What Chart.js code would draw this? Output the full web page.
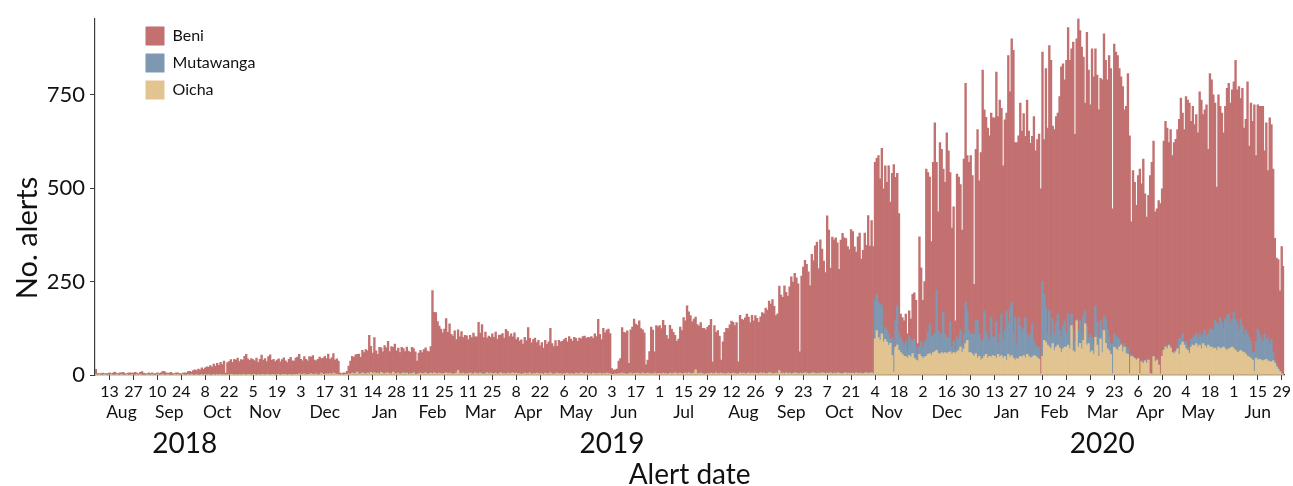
<!DOCTYPE html>
<html>
<head>
<meta charset="utf-8">
<title>Alerts by health zone</title>
<script src="https://cdn.jsdelivr.net/npm/chart.js@4/dist/chart.umd.min.js"></script>
<style>
    html, body { margin: 0; padding: 0; background: #fff; }
</style>
</head>
<body>
<canvas id="alerts" width="1293" height="486"></canvas>
<script>
// Daily alerts, 5 Aug 2018 - 30 Jun 2020 (one row per 2-week tick period)
const firstDay = "2018-08-05";
const firstTick = "2018-08-13";
const tickStep = 14;
const yearAnchors = ["2018-09-26", "2019-06-03", "2020-03-16"];
const monthNames = ["Jan", "Feb", "Mar", "Apr", "May", "Jun", "Jul", "Aug", "Sep", "Oct", "Nov", "Dec"];
const yTicks = [0, 250, 500, 750];
const yMax = 955;
const yTitleText = "No. alerts";

const beni = [
    [14, 4, 3, 4, 5, 3, 4, 4],
    [6, 3, 5, 8, 4, 3, 6, 5, 7, 4, 3, 5, 6, 4],
    [5, 7, 4, 3, 6, 9, 5, 4, 3, 6, 4, 5, 3, 4],
    [5, 4, 6, 8, 10, 6, 4, 5, 7, 4, 3, 6, 5, 4],
    [3, 4, 6, 5, 8, 10, 7, 12, 14, 11, 16, 13, 18, 15],
    [18, 22, 20, 25, 21, 27, 24, 30, 26, 33, 28, 36, 5, 32],
    [36, 40, 33, 42, 38, 45, 35, 41, 39, 48, 55, 42, 38, 44],
    [40, 36, 45, 33, 42, 52, 38, 44, 35, 48, 54, 37, 41, 36],
    [38, 42, 35, 40, 44, 37, 33, 41, 45, 38, 36, 43, 47, 52],
    [40, 37, 45, 42, 36, 48, 44, 50, 38, 35, 42, 46, 39, 44],
    [48, 40, 55, 38, 44, 52, 36, 42, 35, 5, 3, 6, 4, 8],
    [20, 35, 45, 42, 50, 47, 53, 44, 60, 55, 66, 58, 103, 70],
    [55, 93, 62, 50, 70, 66, 58, 75, 68, 84, 60, 72, 66, 78],
    [62, 66, 58, 70, 64, 60, 68, 62, 57, 70, 65, 60, 35, 55],
    [60, 57, 64, 66, 62, 58, 70, 223, 160, 163, 140, 125, 119, 110],
    [119, 145, 110, 132, 105, 100, 115, 90, 108, 98, 112, 95, 104, 100],
    [92, 100, 96, 110, 95, 99, 137, 105, 132, 98, 110, 93, 100, 96],
    [105, 98, 110, 93, 103, 100, 108, 95, 119, 112, 100, 104, 96, 110],
    [90, 97, 85, 92, 80, 95, 88, 123, 92, 84, 90, 96, 82, 88],
    [75, 82, 70, 88, 78, 85, 119, 80, 74, 86, 72, 90, 84, 88],
    [90, 96, 84, 100, 92, 88, 97, 93, 86, 95, 91, 98, 101, 93],
    [98, 95, 101, 93, 106, 99, 145, 104, 93, 119, 110, 115, 118, 108],
    [15, 12, 10, 14, 33, 40, 122, 110, 108, 116, 26, 116, 125, 145],
    [132, 128, 141, 120, 115, 110, 22, 35, 60, 123, 118, 57, 128, 125],
    [128, 120, 141, 130, 101, 95, 128, 118, 110, 100, 86, 92, 123, 115],
    [150, 140, 181, 163, 155, 137, 145, 141, 130, 128, 135, 120, 123, 118],
    [123, 130, 144, 31, 128, 108, 115, 100, 35, 84, 110, 123, 118, 130],
    [141, 135, 128, 137, 31, 154, 145, 141, 150, 159, 148, 137, 155, 140],
    [154, 148, 137, 150, 163, 158, 176, 170, 190, 185, 198, 180, 154, 160],
    [225, 210, 203, 234, 215, 207, 230, 260, 245, 265, 255, 240, 57, 260],
    [285, 300, 291, 273, 234, 318, 300, 340, 353, 280, 357, 331, 300, 269],
    [421, 384, 278, 366, 357, 362, 348, 278, 357, 375, 362, 357, 340, 331],
    [384, 379, 340, 322, 366, 375, 304, 331, 375, 340, 423, 340, 406, 340],
    [369, 364, 392, 335, 422, 388, 432, 396, 450, 368, 440, 493, 384, 355],
    [322, 63, 64, 65, 74, 45, 70, 57, 124, 125, 125, 26, 295, 197],
    [126, 162, 458, 427, 393, 255, 464, 563, 343, 319, 512, 494, 384, 406],
    [547, 500, 400, 318, 360, 78, 436, 434, 390, 308, 468, 587, 415, 450],
    [477, 424, 133, 457, 512, 410, 505, 722, 538, 575, 561, 550, 547, 586],
    [586, 670, 608, 626, 551, 465, 563, 529, 715, 577, 706, 759, 468, 538],
    [486, 598, 533, 575, 485, 626, 553, 510, 502, 602, 520, 560, 570, 493],
    [613, 414, 639, 551, 710, 742, 516, 547, 552, 538, 625, 725, 703, 645],
    [732, 767, 712, 710, 771, 554, 750, 833, 777, 768, 691, 556, 787, 716],
    [613, 773, 718, 688, 663, 610, 649, 670, 753, 692, 670, 755, 736, 361],
    [776, 759, 755, 725, 713, 697, 625, 644, 737, 637, 355, 497, 471, 412],
    [488, 548, 474, 545, 446, 390, 438, 530, 567, 575, 401, 402, 439, 456],
    [446, 558, 601, 589, 540, 582, 525, 562, 566, 585, 589, 641, 591, 567],
    [655, 661, 668, 584, 619, 565, 587, 548, 648, 636, 587, 590, 618, 494],
    [684, 667, 632, 583, 363, 615, 565, 561, 523, 569, 607, 618, 588, 613],
    [617, 692, 623, 652, 590, 637, 551, 564, 675, 513, 638, 619, 663, 497],
    [600, 609, 619, 629, 490, 580, 447, 603, 575, 491, 326, 285, 291, 215],
    [341, 291]
].flat();

const mutawanga = [
    [0, 0, 0, 0, 0, 0, 0, 0],
    [0, 0, 0, 0, 0, 0, 0, 0, 0, 0, 0, 0, 0, 0],
    [0, 0, 0, 0, 0, 0, 0, 0, 0, 0, 0, 0, 0, 0],
    [0, 0, 0, 0, 0, 0, 0, 0, 0, 0, 0, 0, 0, 0],
    [0, 0, 0, 0, 0, 0, 0, 0, 0, 0, 0, 0, 0, 0],
    [0, 0, 0, 0, 0, 0, 0, 0, 0, 0, 0, 0, 0, 0],
    [0, 0, 0, 0, 0, 0, 0, 0, 0, 0, 0, 0, 0, 0],
    [0, 0, 0, 0, 0, 0, 0, 0, 0, 0, 0, 0, 0, 0],
    [0, 0, 0, 0, 0, 0, 0, 0, 0, 0, 0, 0, 0, 0],
    [0, 0, 1, 0, 0, 0, 0, 0, 1, 0, 0, 0, 0, 0],
    [0, 1, 0, 0, 0, 0, 1, 0, 0, 0, 0, 0, 0, 0],
    [1, 0, 0, 2, 0, 0, 1, 0, 0, 1, 0, 2, 0, 0],
    [0, 1, 0, 0, 2, 0, 0, 1, 0, 0, 1, 0, 0, 2],
    [0, 1, 0, 0, 1, 0, 2, 0, 0, 1, 0, 0, 1, 0],
    [1, 0, 0, 1, 0, 0, 1, 0, 2, 0, 0, 1, 0, 0],
    [0, 0, 1, 0, 0, 2, 0, 0, 1, 0, 1, 0, 0, 1],
    [0, 1, 0, 0, 1, 0, 0, 2, 0, 0, 1, 0, 1, 0],
    [1, 0, 0, 1, 0, 1, 0, 0, 1, 0, 0, 2, 0, 0],
    [0, 0, 2, 0, 0, 1, 0, 1, 0, 0, 1, 0, 0, 1],
    [0, 1, 0, 0, 1, 0, 0, 1, 0, 2, 0, 0, 1, 0],
    [1, 0, 0, 1, 0, 0, 2, 0, 0, 1, 0, 1, 0, 0],
    [0, 1, 0, 0, 1, 0, 1, 0, 0, 2, 0, 0, 1, 0],
    [0, 0, 1, 0, 0, 1, 0, 0, 2, 0, 1, 0, 0, 1],
    [1, 0, 0, 2, 0, 0, 1, 0, 0, 1, 0, 0, 1, 0],
    [0, 1, 0, 0, 1, 0, 0, 2, 0, 0, 1, 0, 0, 1],
    [0, 0, 1, 0, 0, 2, 0, 0, 1, 0, 0, 1, 0, 0],
    [1, 0, 0, 1, 0, 0, 1, 0, 0, 2, 0, 0, 1, 0],
    [0, 1, 0, 0, 2, 0, 0, 1, 0, 0, 1, 0, 0, 1],
    [0, 0, 1, 0, 0, 1, 0, 0, 2, 0, 0, 1, 0, 0],
    [1, 0, 0, 2, 0, 0, 1, 0, 0, 1, 0, 0, 2, 0],
    [0, 1, 0, 0, 1, 0, 0, 2, 0, 0, 1, 0, 0, 1],
    [0, 0, 2, 0, 0, 1, 0, 0, 1, 0, 0, 2, 0, 0],
    [1, 0, 0, 1, 0, 0, 2, 0, 0, 1, 0, 0, 1, 0],
    [103, 97, 95, 97, 75, 22, 33, 32, 31, 10, 48, 62, 70, 105],
    [44, 40, 35, 30, 40, 20, 50, 45, 35, 50, 35, 20, 20, 40],
    [30, 40, 43, 60, 80, 50, 45, 50, 160, 60, 55, 50, 110, 50],
    [44, 40, 80, 20, 30, 10, 40, 30, 45, 20, 40, 110, 79, 59],
    [50, 55, 60, 90, 100, 60, 50, 50, 122, 60, 55, 40, 106, 50],
    [52, 96, 29, 62, 111, 50, 70, 132, 85, 133, 142, 65, 114, 40],
    [110, 80, 72, 73, 108, 55, 50, 65, 89, 38, 30, 24, 33, 2],
    [201, 123, 93, 30, 97, 30, 66, 44, 65, 83, 48, 40, 60, 70],
    [35, 83, 60, 31, 55, 30, 5, 45, 60, 40, 67, 35, 50, 16],
    [50, 35, 25, 84, 60, 50, 48, 60, 41, 65, 50, 35, 29, 80],
    [35, 35, 34, 20, 5, 13, 10, 18, 15, 0, 5, 2, 1, 2],
    [2, 0, 3, 2, 1, 2, 3, 0, 0, 2, 1, 3, 2, 0],
    [2, 2, 3, 2, 3, 3, 2, 3, 3, 2, 40, 20, 22, 10],
    [20, 9, 3, 20, 20, 27, 26, 25, 30, 30, 26, 42, 33, 30],
    [48, 48, 48, 73, 74, 60, 84, 68, 50, 80, 94, 93, 68, 75],
    [98, 84, 80, 58, 84, 68, 50, 65, 60, 52, 46, 20, 50, 45],
    [83, 68, 60, 52, 70, 53, 62, 49, 60, 22, 9, 6, 3, 1],
    [0, 0]
].flat();

const oicha = [
    [1, 0, 1, 0, 0, 1, 0, 0],
    [0, 1, 0, 0, 1, 0, 0, 1, 0, 0, 1, 0, 0, 1],
    [0, 0, 1, 0, 1, 0, 0, 0, 1, 0, 0, 1, 0, 0],
    [1, 0, 0, 1, 0, 0, 1, 0, 0, 0, 1, 0, 1, 0],
    [0, 1, 0, 0, 1, 0, 1, 0, 0, 1, 0, 0, 1, 0],
    [1, 0, 1, 0, 0, 2, 0, 1, 0, 1, 0, 1, 0, 1],
    [0, 1, 1, 0, 2, 0, 1, 0, 1, 2, 0, 1, 1, 0],
    [1, 2, 0, 1, 0, 1, 2, 0, 1, 1, 0, 2, 1, 0],
    [2, 1, 0, 1, 2, 1, 0, 1, 2, 0, 1, 2, 1, 3],
    [2, 1, 3, 0, 2, 1, 4, 2, 1, 3, 0, 2, 5, 1],
    [2, 3, 1, 4, 2, 5, 3, 1, 2, 0, 1, 0, 1, 2],
    [3, 2, 5, 3, 4, 8, 2, 3, 6, 4, 2, 5, 3, 7],
    [4, 6, 3, 5, 2, 7, 4, 3, 5, 6, 2, 4, 8, 3],
    [3, 5, 2, 4, 6, 3, 5, 2, 4, 3, 6, 2, 1, 4],
    [5, 3, 4, 6, 2, 4, 5, 3, 6, 4, 3, 5, 4, 3],
    [4, 6, 3, 5, 4, 2, 3, 5, 12, 4, 3, 5, 2, 4],
    [3, 5, 4, 2, 6, 3, 4, 5, 3, 2, 4, 6, 3, 5],
    [4, 3, 5, 2, 4, 6, 3, 4, 2, 5, 3, 4, 6, 3],
    [5, 3, 4, 2, 3, 5, 4, 3, 6, 2, 4, 3, 5, 4],
    [3, 4, 2, 5, 3, 4, 6, 3, 2, 4, 5, 3, 4, 2],
    [4, 3, 5, 2, 4, 3, 2, 5, 4, 3, 6, 4, 3, 5],
    [3, 4, 2, 5, 3, 4, 3, 5, 2, 4, 3, 5, 4, 3],
    [2, 1, 3, 2, 4, 3, 5, 4, 3, 2, 4, 5, 3, 4],
    [3, 5, 4, 2, 6, 3, 4, 5, 3, 4, 2, 5, 3, 4],
    [4, 3, 5, 3, 4, 2, 5, 3, 4, 6, 3, 4, 5, 3],
    [4, 5, 3, 6, 4, 3, 5, 14, 4, 3, 5, 4, 2, 3],
    [4, 3, 5, 3, 4, 6, 3, 4, 5, 3, 4, 2, 5, 4],
    [3, 5, 4, 3, 2, 6, 4, 5, 3, 4, 6, 3, 5, 4],
    [5, 4, 3, 6, 4, 5, 3, 4, 6, 5, 4, 3, 5, 4],
    [12, 4, 5, 3, 6, 4, 5, 3, 4, 6, 5, 4, 3, 5],
    [4, 6, 5, 3, 4, 5, 6, 4, 3, 5, 4, 6, 5, 4],
    [5, 4, 6, 3, 5, 4, 6, 5, 3, 4, 5, 6, 4, 5],
    [4, 5, 3, 6, 4, 5, 4, 3, 5, 6, 4, 5, 6, 4],
    [97, 119, 100, 93, 110, 88, 95, 88, 79, 85, 52, 8, 75, 80],
    [66, 60, 55, 50, 49, 45, 52, 48, 57, 45, 40, 38, 55, 50],
    [44, 48, 50, 55, 57, 52, 60, 62, 66, 58, 55, 60, 57, 60],
    [57, 60, 62, 55, 60, 57, 62, 66, 75, 60, 70, 84, 93, 60],
    [60, 55, 50, 57, 45, 50, 40, 44, 50, 55, 45, 50, 48, 52],
    [50, 45, 55, 48, 52, 45, 50, 40, 55, 48, 52, 45, 40, 44],
    [44, 50, 48, 52, 46, 55, 50, 45, 48, 52, 50, 46, 42, 3],
    [50, 93, 88, 80, 75, 70, 84, 66, 75, 80, 72, 60, 70, 75],
    [75, 80, 70, 132, 65, 60, 145, 75, 85, 70, 93, 137, 80, 84],
    [60, 65, 55, 101, 80, 50, 97, 60, 119, 85, 70, 65, 55, 4],
    [75, 70, 66, 75, 80, 62, 75, 57, 55, 3, 50, 48, 44, 40],
    [44, 3, 35, 31, 38, 31, 40, 4, 2, 49, 35, 40, 26, 3],
    [50, 66, 75, 70, 79, 72, 60, 57, 62, 70, 55, 80, 88, 80],
    [70, 66, 57, 75, 80, 78, 84, 75, 80, 70, 84, 78, 72, 80],
    [75, 75, 70, 72, 66, 75, 70, 72, 75, 70, 66, 70, 72, 75],
    [70, 66, 60, 62, 66, 62, 60, 55, 50, 48, 44, 40, 10, 45],
    [40, 42, 40, 38, 40, 42, 38, 36, 35, 38, 31, 22, 15, 9],
    [3, 0]
].flat();

// Date bookkeeping for the category axis
const DAY = 86400000;
const t0 = Date.parse(firstDay + "T00:00:00Z");
const idxOf = (s) => Math.round((Date.parse(s + "T00:00:00Z") - t0) / DAY);
const dates = beni.map((_, i) => new Date(t0 + i * DAY));
const labels = dates.map((d) => d.toISOString().slice(0, 10));

const dayTicks = [];
for (let i = idxOf(firstTick); i < labels.length; i += tickStep) dayTicks.push(i);

// month name sits under the middle of that month's day ticks
const byMonth = new Map();
dayTicks.forEach((i) => {
    const key = dates[i].getUTCFullYear() * 12 + dates[i].getUTCMonth();
    if (!byMonth.has(key)) byMonth.set(key, []);
    byMonth.get(key).push(i);
});
const monthTicks = [...byMonth.values()].map((a) => Math.round((a[0] + a[a.length - 1]) / 2));
const yearTicks = yearAnchors.map(idxOf);

const ink = "#111";
const axisColor = "#3c3c3c";
const fontFamily = "Lato, 'Noto Sans', sans-serif";

Chart.defaults.font.family = fontFamily;
Chart.defaults.color = ink;

// legend in the top-left corner of the plot, y title a bit below centre
const legendSpot = {
    id: "legendSpot",
    beforeDraw(chart) {
        const lg = chart.legend;
        lg.left = 137.5;
        lg.top = 18.5;
        lg.bottom = chart.chartArea.bottom;
    },
    afterDraw(chart) {
        const ctx = chart.ctx;
        ctx.save();
        ctx.translate(28, 238);
        ctx.rotate(-Math.PI / 2);
        ctx.font = "29px " + fontFamily;
        ctx.fillStyle = ink;
        ctx.textAlign = "center";
        ctx.textBaseline = "middle";
        ctx.fillText(yTitleText, 0, 0);
        ctx.restore();
    },
};

new Chart(document.getElementById("alerts"), {
    type: "bar",
    data: {
        labels: labels,
        datasets: [
            { label: "Oicha", data: oicha, backgroundColor: "#E2C491" },
            { label: "Mutawanga", data: mutawanga, backgroundColor: "#7F98B1" },
            { label: "Beni", data: beni, backgroundColor: "#C27070" },
        ],
    },
    options: {
        responsive: false,
        animation: false,
        layout: { padding: { top: 14, right: 8, left: 0, bottom: 0 } },
        datasets: { bar: { barPercentage: 1, categoryPercentage: 1, borderWidth: 0 } },
        plugins: {
            tooltip: { enabled: false },
            legend: {
                position: "chartArea",
                align: "start",
                reverse: true,
                labels: { boxWidth: 19, boxHeight: 19, padding: 8, font: { size: 16 }, color: ink },
            },
        },
        scales: {
            x: {
                type: "category",
                stacked: true,
                offset: true,
                weight: 0,
                grid: { drawOnChartArea: false, offset: false, tickLength: 5, color: axisColor },
                border: { color: axisColor, width: 1.2 },
                ticks: {
                    autoSkip: false,
                    maxRotation: 0,
                    padding: 2,
                    font: { size: 16 },
                    callback: (v) => String(dates[v].getUTCDate()),
                },
                afterBuildTicks: (s) => { s.ticks = dayTicks.map((value) => ({ value })); },
                afterFit: (s) => { s.height = 26; },
            },
            xMonth: {
                type: "category",
                axis: "x",
                position: "bottom",
                offset: true,
                weight: 1,
                grid: { display: false, drawTicks: false },
                border: { display: false },
                ticks: {
                    autoSkip: false,
                    maxRotation: 0,
                    padding: 1,
                    font: { size: 17.5 },
                    callback: (v) => monthNames[dates[v].getUTCMonth()],
                },
                afterBuildTicks: (s) => { s.ticks = monthTicks.map((value) => ({ value })); },
                afterFit: (s) => { s.height = 21; },
            },
            xYear: {
                type: "category",
                axis: "x",
                position: "bottom",
                offset: true,
                weight: 2,
                grid: { display: false, drawTicks: false },
                border: { display: false },
                ticks: {
                    autoSkip: false,
                    maxRotation: 0,
                    padding: 5,
                    font: { size: 28 },
                    callback: (v) => String(dates[v].getUTCFullYear()),
                },
                title: {
                    display: true,
                    text: "Alert date",
                    font: { size: 28, lineHeight: 0.8 },
                    padding: { top: 0, bottom: 0 },
                },
                afterBuildTicks: (s) => { s.ticks = yearTicks.map((value) => ({ value })); },
                afterFit: (s) => { s.height = 64; },
            },
            y: {
                stacked: true,
                min: 0,
                max: yMax,
                grid: { drawOnChartArea: false, tickLength: 5, color: axisColor },
                border: { color: axisColor, width: 1.2 },
                ticks: { padding: 5, font: { size: 22 } },
                afterBuildTicks: (s) => { s.ticks = yTicks.map((value) => ({ value })); },
                afterFit: (s) => { s.width = 95; },
            },
        },
    },
    plugins: [legendSpot],
});
</script>
</body>
</html>
